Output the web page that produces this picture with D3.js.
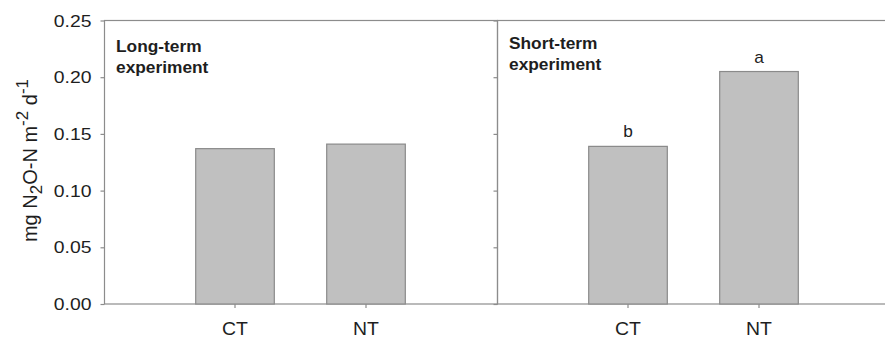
<!DOCTYPE html>
<html>
<head>
<meta charset="utf-8">
<script src="https://cdn.jsdelivr.net/npm/d3@7"></script>
<style>
  html, body { margin: 0; padding: 0; background: #fff; }
  svg { display: block; font-family: "Liberation Sans", Arial, sans-serif; }
</style>
</head>
<body>
<svg id="chart" width="885" height="338"></svg>
<script>
// N2O emission per treatment, two experiments
const categories = ["CT", "NT"];
const panelTitles = [["Long-term", "experiment"], ["Short-term", "experiment"]];
const longTermValues = [0.137, 0.141];
const shortTermValues = [0.139, 0.205];
const shortTermLetters = ["b", "a"];
const yTicks = [0.00, 0.05, 0.10, 0.15, 0.20, 0.25];

const svg = d3.select("#chart");
const plotTop = 20.5, plotBottom = 304;
const panelW = 393;
const panelX = [104, 497];

const axisColor = "#8c8c8c";
const textColor = "#1e1e1e";

const y = d3.scaleLinear().domain([0, 0.25]).range([plotBottom, plotTop]);

// text with slight horizontal widening
function wideText(g, x, yPos, str, size, sx, anchor, weight) {
  return g.append("text")
    .attr("transform", `translate(${x},${yPos}) scale(${sx},1)`)
    .attr("text-anchor", anchor || "start")
    .attr("font-size", size)
    .attr("font-weight", weight || "normal")
    .attr("fill", textColor)
    .text(str);
}

const panels = [
  { values: longTermValues, letters: null, title: panelTitles[0], x0: panelX[0], labels: true, titleY: 52 },
  { values: shortTermValues, letters: shortTermLetters, title: panelTitles[1], x0: panelX[1], labels: false, titleY: 49 }
];

panels.forEach(p => {
  const g = svg.append("g");
  const x = d3.scaleBand().domain(categories)
    .range([p.x0, p.x0 + panelW])
    .paddingInner(0.4).paddingOuter(0.7);

  // frame
  g.append("rect")
    .attr("x", p.x0 + 0.5).attr("y", plotTop)
    .attr("width", panelW).attr("height", plotBottom - plotTop)
    .attr("fill", "none").attr("stroke", axisColor).attr("stroke-width", 1.2);

  // bars
  g.selectAll("rect.bar").data(p.values).join("rect")
    .attr("class", "bar")
    .attr("x", (d, i) => x(categories[i]))
    .attr("width", x.bandwidth())
    .attr("y", d => y(d))
    .attr("height", d => plotBottom - y(d))
    .attr("fill", "#c0c0c0")
    .attr("stroke", "#8a8a8a")
    .attr("stroke-width", 1.2);

  // y axis ticks
  const yAxis = d3.axisLeft(y).tickValues(yTicks).tickSize(4).tickFormat("");
  const ya = g.append("g").attr("transform", `translate(${p.x0 + 0.5},0)`).call(yAxis);
  ya.select(".domain").remove();
  ya.selectAll("line").attr("stroke", axisColor).attr("stroke-width", 1.2);

  if (p.labels) {
    yTicks.forEach(v => {
      wideText(g, 91.5, y(v) + 6, d3.format(".2f")(v), 17, 1.14, "end");
    });
  }

  // x axis ticks
  const xAxis = d3.axisBottom(x).tickSize(4).tickFormat("");
  const xa = g.append("g").attr("transform", `translate(0,${plotBottom})`).call(xAxis);
  xa.select(".domain").remove();
  xa.selectAll("line").attr("stroke", axisColor).attr("stroke-width", 1.2);

  categories.forEach(c => {
    wideText(g, x(c) + x.bandwidth() / 2, 335, c, 18, 1.08, "middle");
  });

  // panel title
  wideText(g, p.x0 + 12, p.titleY, p.title[0], 16.5, 1.05, "start", "bold");
  wideText(g, p.x0 + 12, p.titleY + 21, p.title[1], 16.5, 1.05, "start", "bold");

  // significance letters
  if (p.letters) {
    p.letters.forEach((l, i) => {
      wideText(g, x(categories[i]) + x.bandwidth() / 2, y(p.values[i]) - 9, l, 16, 1.08, "middle");
    });
  }
});

// y-axis title
const yt = svg.append("text")
  .attr("transform", `translate(37,160.5) rotate(-90)`)
  .attr("text-anchor", "middle")
  .attr("font-size", 20)
  .attr("fill", textColor);
yt.append("tspan").text("mg N");
yt.append("tspan").attr("font-size", 17).attr("dy", 5).text("2");
yt.append("tspan").attr("dy", -5).text("O-N m");
yt.append("tspan").attr("font-size", 17).attr("dy", -9).text("-2");
yt.append("tspan").attr("dy", 9).text(" d");
yt.append("tspan").attr("font-size", 17).attr("dy", -9).text("-1");
</script>
</body>
</html>
